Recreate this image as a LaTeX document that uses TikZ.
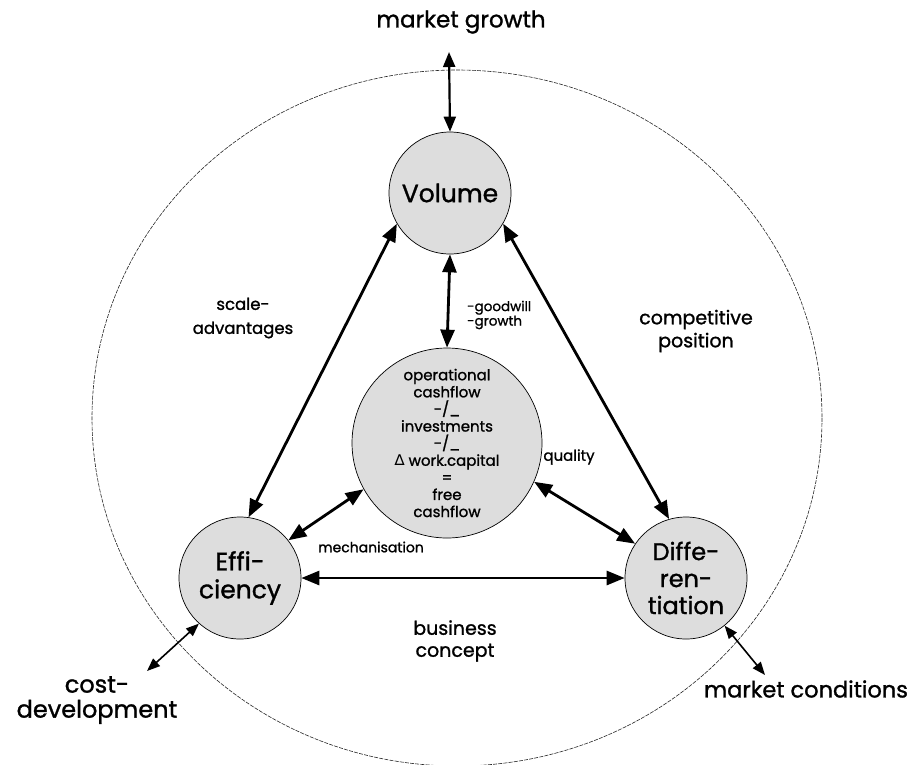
\documentclass[tikz,border=0pt]{standalone}
\usepackage{fontspec}
\setmainfont{Poppins}[FakeBold=1.2, BoldFont=Poppins, BoldFeatures={FakeBold=1.2}]
\newfontfamily\dejavu{DejaVu Sans}
\usetikzlibrary{arrows.meta}
\definecolor{circfill}{HTML}{DDDDDD}
\tikzset{
  bubble/.style={circle, draw=black, line width=0.7pt, fill=circfill, minimum size=122pt, inner sep=0pt, align=center},
  bigbubble/.style={circle, draw=black, line width=0.7pt, fill=circfill, minimum size=190pt, inner sep=0pt, align=center},
  bigarrow/.style={{Triangle[length=18pt,width=14pt]}-{Triangle[length=18pt,width=14pt]}, line width=2.8pt},
  midarrow/.style={{Triangle[length=15pt,width=12pt]}-{Triangle[length=15pt,width=12pt]}, line width=2.2pt},
  smallarrow/.style={{Triangle[length=13pt,width=10pt]}-{Triangle[length=13pt,width=10pt]}, line width=1.6pt},
  lbl/.style={align=center, inner sep=0pt},
}
\begin{document}
\begin{tikzpicture}[x=1pt, y=-1pt]
\useasboundingbox (0,0) rectangle (917,764);
% outer dashed ellipse
\draw[dash pattern=on 4pt off 1.2pt, line width=0.6pt, draw=black!85] (457,418) ellipse [x radius=365, y radius=348];

% main bubbles
\node[bubble, font=\bfseries\fontsize{25}{28}\selectfont] (vol) at (450,193) {Volume};
\node[bigbubble, font=\bfseries\fontsize{15}{17.1}\selectfont] (cf) at (447,443) {operational\\cashflow\\-/\_\\investments\\-/\_\\{\dejavu\mdseries ∆} work.capital\\=\\free\\cashflow};
\node[bubble, font=\bfseries\fontsize{25}{28}\selectfont] (eff) at (240,578) {Effi-\\ciency};
\node[bubble, font=\bfseries\fontsize{24}{27}\selectfont] (diff) at (686,578) {Diffe-\\ren-\\tiation};

% free ends
\coordinate (mg) at (449,52);
\coordinate (cd) at (147,671);
\coordinate (mc) at (765,675);

% connectors
\draw[midarrow] (mg) -- (vol.north);
\draw[bigarrow] (vol.south) -- (cf.north);
\draw[bigarrow] (vol.210) -- (eff.82);
\draw[bigarrow] (vol.330) -- (diff.106);
\draw[bigarrow] (eff.38) -- (cf.209);
\draw[bigarrow] (cf.336) -- (diff.146);
\draw[bigarrow] (eff.east) -- (diff.west);
\draw[smallarrow] (eff.228) -- (cd);
\draw[smallarrow] (diff.309) -- (mc);

% labels
\node[lbl, font=\bfseries\fontsize{23}{26}\selectfont] (lmg) at (461,22) {market growth};
\node[lbl, font=\bfseries\fontsize{16.5}{24}\selectfont] (lsa) at (243,318) {scale-\\advantages};
\node[lbl, font=\bfseries\fontsize{19}{23}\selectfont] (lcp) at (696,331) {competitive\\position};
\node[lbl, anchor=west, align=left, font=\bfseries\fontsize{13.5}{14.5}\selectfont] (lgw) at (467,315) {-goodwill\\-growth};
\node[lbl, font=\bfseries\fontsize{15}{16}\selectfont] (lq) at (569,457) {quality};
\node[lbl, font=\bfseries\fontsize{14}{16}\selectfont] (lm) at (371,547) {mechanisation};
\node[lbl, font=\bfseries\fontsize{19}{22}\selectfont] (lbc) at (455,641) {business\\concept};
\node[lbl, font=\bfseries\fontsize{24}{25}\selectfont] (lcd) at (97,700) {cost-\\development};
\node[lbl, font=\bfseries\fontsize{22.5}{25}\selectfont] (lmc) at (806,689) {market conditions};
\end{tikzpicture}
\end{document}
